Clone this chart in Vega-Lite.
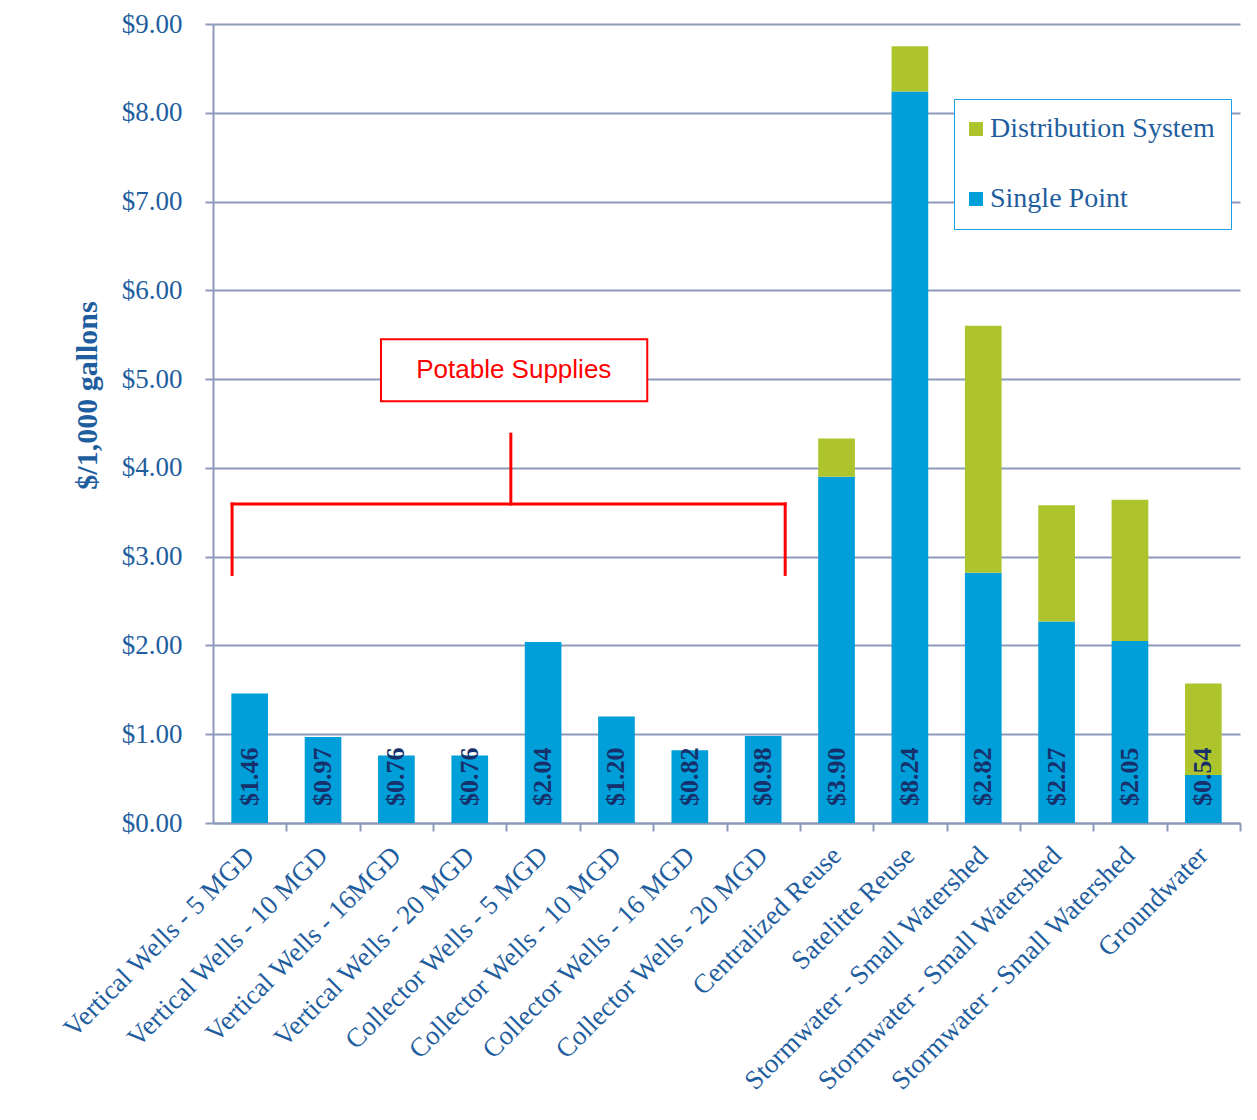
{
  "$schema": "https://vega.github.io/schema/vega-lite/v6.json",
  "width": 1027,
  "height": 799,
  "autosize": "none",
  "padding": {"left": 213, "top": 24, "right": 17, "bottom": 297},
  "background": "white",
  "config": {
    "view": {"stroke": null},
    "font": "Liberation Serif"
  },
  "layer": [
    {
      "data": {
        "values": [
          {"idx": 0, "series": "Single Point", "value": 1.46},
          {"idx": 0, "series": "Distribution System", "value": 0},
          {"idx": 1, "series": "Single Point", "value": 0.97},
          {"idx": 1, "series": "Distribution System", "value": 0},
          {"idx": 2, "series": "Single Point", "value": 0.76},
          {"idx": 2, "series": "Distribution System", "value": 0},
          {"idx": 3, "series": "Single Point", "value": 0.76},
          {"idx": 3, "series": "Distribution System", "value": 0},
          {"idx": 4, "series": "Single Point", "value": 2.04},
          {"idx": 4, "series": "Distribution System", "value": 0},
          {"idx": 5, "series": "Single Point", "value": 1.20},
          {"idx": 5, "series": "Distribution System", "value": 0},
          {"idx": 6, "series": "Single Point", "value": 0.82},
          {"idx": 6, "series": "Distribution System", "value": 0},
          {"idx": 7, "series": "Single Point", "value": 0.98},
          {"idx": 7, "series": "Distribution System", "value": 0},
          {"idx": 8, "series": "Single Point", "value": 3.90},
          {"idx": 8, "series": "Distribution System", "value": 0.43},
          {"idx": 9, "series": "Single Point", "value": 8.24},
          {"idx": 9, "series": "Distribution System", "value": 0.51},
          {"idx": 10, "series": "Single Point", "value": 2.82},
          {"idx": 10, "series": "Distribution System", "value": 2.78},
          {"idx": 11, "series": "Single Point", "value": 2.27},
          {"idx": 11, "series": "Distribution System", "value": 1.31},
          {"idx": 12, "series": "Single Point", "value": 2.05},
          {"idx": 12, "series": "Distribution System", "value": 1.59},
          {"idx": 13, "series": "Single Point", "value": 0.54},
          {"idx": 13, "series": "Distribution System", "value": 1.03}
        ]
      },
      "encoding": {
        "x": {
          "field": "idx",
          "type": "ordinal",
          "scale": {"paddingInner": 0.5, "paddingOuter": 0.25},
          "axis": {
            "title": null,
            "labelAngle": -45,
            "labelAlign": "right",
            "labelBaseline": "middle",
            "labelFont": "Liberation Serif",
            "labelFontSize": 27,
            "labelColor": "#1F5E9E",
            "labelPadding": 20,
            "labelLimit": 0,
            "tickOffset": 36.68,
            "labelOffset": -36.68,
            "tickSize": 8,
            "tickColor": "#8C9ABA",
            "tickWidth": 2,
            "domainColor": "#8C9ABA",
            "domainWidth": 2,
            "grid": false,
            "labelExpr": "['Vertical Wells - 5 MGD','Vertical Wells - 10 MGD','Vertical Wells - 16MGD','Vertical Wells - 20 MGD','Collector Wells - 5 MGD','Collector Wells - 10 MGD','Collector Wells - 16 MGD','Collector Wells - 20 MGD','Centralized Reuse','Satelitte Reuse','Stormwater - Small Watershed','Stormwater - Small Watershed','Stormwater - Small Watershed','Groundwater'][datum.value]"
          }
        }
      },
      "layer": [
        {
          "mark": {"type": "bar"},
          "encoding": {
            "y": {
              "field": "value",
              "type": "quantitative",
              "stack": "zero",
              "scale": {"domain": [0, 9], "nice": false},
              "axis": {
                "title": "$/1,000 gallons",
                "titleFont": "Liberation Serif",
                "titleFontSize": 30,
                "titleFontWeight": "bold",
                "titleColor": "#1F5E9E",
                "titlePadding": 19,
                "titleY": 371,
                "values": [0, 1, 2, 3, 4, 5, 6, 7, 8, 9],
                "format": "$.2f",
                "labelFont": "Liberation Serif",
                "labelFontSize": 27,
                "labelColor": "#1F5E9E",
                "labelPadding": 23,
                "tickSize": 8,
                "tickColor": "#8C9ABA",
                "tickWidth": 2,
                "domainColor": "#8C9ABA",
                "domainWidth": 2,
                "grid": true,
                "gridColor": "#8C9ABA",
                "gridWidth": 2
              }
            },
            "color": {
              "field": "series",
              "type": "nominal",
              "scale": {
                "domain": ["Distribution System", "Single Point"],
                "range": ["#ADC42D", "#009FDA"]
              },
              "legend": {
                "title": null,
                "orient": "none",
                "legendX": 741,
                "legendY": 75,
                "symbolType": "square",
                "symbolSize": 196,
                "symbolStrokeWidth": 0,
                "symbolOffset": -8,
                "labelFont": "Liberation Serif",
                "labelFontSize": 28,
                "labelColor": "#1F5E9E",
                "labelOffset": 0,
                "labelLimit": 0,
                "rowPadding": 42,
                "padding": 16,
                "strokeColor": "#1BA1E2",
                "fillColor": "white"
              }
            },
            "order": {"field": "series", "sort": "descending"}
          }
        },
        {
          "transform": [{"filter": "datum.series === 'Single Point'"}],
          "mark": {
            "type": "text",
            "angle": 270,
            "align": "left",
            "baseline": "middle",
            "dx": 17,
            "font": "Liberation Serif",
            "fontSize": 26,
            "fontWeight": "bold",
            "color": "#17306B"
          },
          "encoding": {
            "y": {"datum": 0, "type": "quantitative"},
            "text": {"field": "value", "type": "quantitative", "format": "$.2f"}
          }
        }
      ]
    },
    {
      "data": {
        "values": [
          {"kind": "box", "x": 2.29, "x2": 5.92, "y": 4.75, "y2": 5.45},
          {"kind": "line", "x": 0.26, "x2": 7.8, "y": 3.593, "y2": 3.593},
          {"kind": "line", "x": 0.26, "x2": 0.26, "y": 2.8, "y2": 3.593},
          {"kind": "line", "x": 7.8, "x2": 7.8, "y": 2.8, "y2": 3.593},
          {"kind": "line", "x": 4.06, "x2": 4.06, "y": 3.593, "y2": 4.38},
          {"kind": "label", "x": 4.1, "y": 5.1, "text": "Potable Supplies"}
        ]
      },
      "encoding": {
        "x": {
          "field": "x",
          "type": "quantitative",
          "scale": {"domain": [0, 14], "nice": false, "zero": false},
          "axis": null
        },
        "y": {"field": "y", "type": "quantitative"}
      },
      "layer": [
        {
          "transform": [{"filter": "datum.kind === 'box'"}],
          "mark": {"type": "rect", "fill": "white", "stroke": "#FF0000", "strokeWidth": 2},
          "encoding": {
            "x2": {"field": "x2"},
            "y2": {"field": "y2"}
          }
        },
        {
          "transform": [{"filter": "datum.kind === 'line'"}],
          "mark": {"type": "rule", "color": "#FF0000", "strokeWidth": 3, "strokeCap": "square"},
          "encoding": {
            "x2": {"field": "x2"},
            "y2": {"field": "y2"}
          }
        },
        {
          "transform": [{"filter": "datum.kind === 'label'"}],
          "mark": {
            "type": "text",
            "font": "Liberation Sans",
            "fontSize": 26,
            "color": "#FF0000",
            "align": "center",
            "baseline": "middle"
          },
          "encoding": {
            "text": {"field": "text"}
          }
        }
      ]
    }
  ],
  "resolve": {"scale": {"x": "independent"}}
}
